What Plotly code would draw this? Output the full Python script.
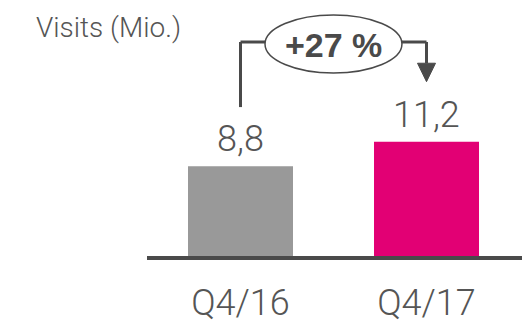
import plotly.graph_objects as go

categories = ["Q4/16", "Q4/17"]
values = [8.8, 11.2]
value_labels = ["8,8", "11,2"]
bar_colors = ["#999999", "#E20074"]
title_text = "Visits (Mio.)"
growth_text = "+27 %"

TXT = "#555555"
LINE = "#4a4a4a"
FONT = "Roboto"

fig = go.Figure()
fig.add_trace(go.Bar(
    x=categories, y=values, marker=dict(color=bar_colors, line=dict(width=0)),
    width=0.5645, hoverinfo="skip",
))

# value labels above bars
for c, v, t in zip(categories, values, value_labels):
    fig.add_annotation(x=c, y=v, text=t, showarrow=False, yanchor="bottom",
                       yshift=4, font=dict(family=FONT, size=36, color=TXT, weight=300))

# title
fig.add_annotation(xref="paper", yref="paper", x=(34 - 147) / 375, y=1 - 27 / 256,
                   xanchor="left", yanchor="middle", text=title_text, showarrow=False,
                   font=dict(family=FONT, size=28, color=TXT, weight=300))

# growth bracket
ytop = 20.98
yleft_bottom = 14.6
e_x0, e_x1 = 0.1317, 0.868
e_y0, e_y1 = 17.94, 23.63
arrow_top = 18.9
arrow_tip = 17.09
half_w = 9 / 186

shapes = [
    dict(type="line", xref="x", yref="y", x0=0, x1=0, y0=yleft_bottom, y1=ytop,
         line=dict(color=LINE, width=3)),
    dict(type="line", xref="x", yref="y", x0=0, x1=e_x0, y0=ytop, y1=ytop,
         line=dict(color=LINE, width=3)),
    dict(type="line", xref="x", yref="y", x0=e_x1, x1=1, y0=ytop, y1=ytop,
         line=dict(color=LINE, width=3)),
    dict(type="line", xref="x", yref="y", x0=1, x1=1, y0=ytop, y1=arrow_top,
         line=dict(color=LINE, width=3)),
    dict(type="path", xref="x", yref="y",
         path=f"M {1-half_w},{arrow_top} L {1+half_w},{arrow_top} L 1,{arrow_tip} Z",
         fillcolor=LINE, line=dict(color=LINE, width=1)),
    dict(type="circle", xref="x", yref="y", x0=e_x0, x1=e_x1, y0=e_y0, y1=e_y1,
         line=dict(color=LINE, width=1.5), fillcolor="white"),
]
fig.update_layout(shapes=shapes)

fig.add_annotation(x=0.5, y=20.7, xref="x", yref="y", text=f"<b>{growth_text}</b>",
                   showarrow=False, font=dict(family="Liberation Sans", size=34, color=LINE))

fig.update_layout(
    width=527, height=328,
    margin=dict(l=147, r=5, t=0, b=72, autoexpand=False),
    plot_bgcolor="white", paper_bgcolor="white",
    showlegend=False,
    xaxis=dict(type="category", range=[-0.5027, 1.5134], showgrid=False, zeroline=False,
               showline=True, linecolor=LINE, linewidth=4, ticks="",
               automargin=False, ticklabelstandoff=12,
               tickfont=dict(family=FONT, size=36, color=TXT, weight=300)),
    yaxis=dict(range=[0, 256 / 10.2], visible=False, showgrid=False, zeroline=False,
               automargin=False),
)

fig.write_html("out.html")
